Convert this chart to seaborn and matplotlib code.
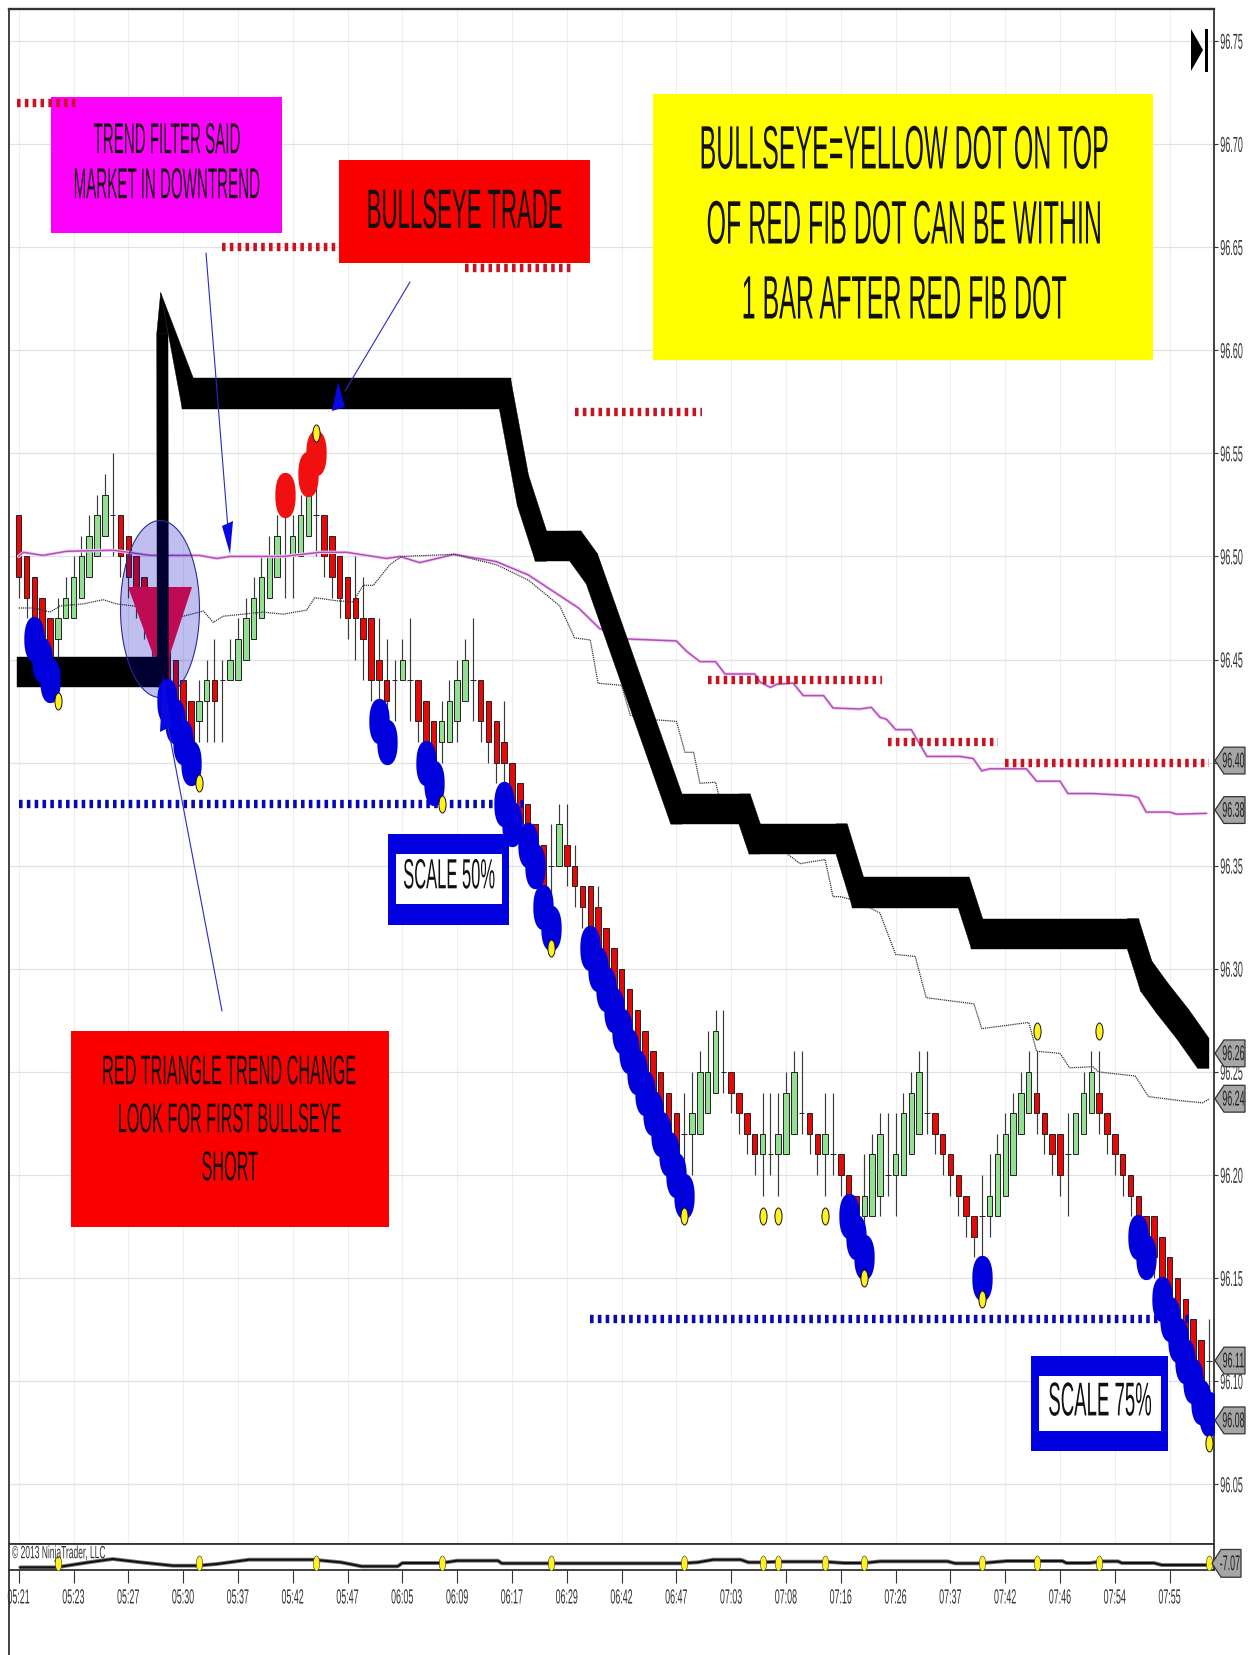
import numpy as np
import matplotlib
matplotlib.use("Agg")
import matplotlib.pyplot as plt
import seaborn as sns
from matplotlib.lines import Line2D
from matplotlib.patches import Ellipse, Polygon, Rectangle
from matplotlib.path import Path
from matplotlib.patheffects import AbstractPathEffect
from matplotlib.transforms import Affine2D, blended_transform_factory

W, H = 1252, 1656

# all prices are in cents above 96.00
opens = [52,50,49,48,47,46,47,47,48,49,50,51,52,52,51,50,49,48,47,46,45,44,43,42,43,44,44,44,44,45,46,47,48,49,50,50,50,51,52,52,51,50,49,48,47,47,45,44,44,44,44,44,43,42,41,41,42,43,44,44,43,42,41,40,39,38,37,36,35,35,36,35,34,34,33,32,31,30,29,28,27,26,25,24,23,22,22,22,23,24,25,25,24,23,22,21,21,21,21,22,23,23,22,21,21,21,20,19,18,18,19,20,20,20,21,22,23,23,22,21,20,19,18,18,18,18,19,20,22,23,24,23,22,22,21,21,22,23,24,23,22,21,20,19,18,18,17,16,15,14,13,12,11]
closes = [49,48,47,46,45,47,48,49,50,51,52,53,52,50,49,48,48,46,45,44,43,42,41,43,44,43,44,45,46,47,48,49,50,51,50,51,52,53,52,50,49,48,47,47,46,44,44,43,44,45,44,42,41,40,42,43,44,45,44,42,41,40,40,38,37,36,35,34,35,37,35,34,33,32,31,30,29,28,27,26,25,24,23,22,21,22,23,25,25,27,25,24,23,22,21,22,21,22,24,25,23,22,21,22,21,20,19,18,19,21,22,20,21,23,24,25,23,22,21,20,19,18,17,18,19,21,22,23,24,25,23,22,21,20,21,23,24,25,23,22,21,20,19,18,17,16,15,14,13,12,11,10,11]
highs = [52,50,49,48,47,48,49,50,51,52,53,54,55,52,51,50,49,48,47,46,45,44,43,44,45,46,45,46,47,48,49,50,51,52,52,52,53,54,56,52,51,50,49,50,49,47,47,46,45,46,47,44,43,42,43,44,45,46,47,44,43,42,43,40,39,38,37,36,37,38,38,36,34,34,34,32,31,30,29,28,27,26,25,24,23,24,25,26,27,28,28,25,24,23,22,24,24,24,25,26,26,23,22,24,24,21,20,19,21,22,23,23,23,24,25,26,26,23,22,21,20,19,18,20,21,22,23,24,25,26,26,23,22,22,23,23,25,26,26,23,22,21,20,19,18,18,17,16,15,14,13,12,13]
lows = [48,47,46,45,44,45,47,47,48,49,50,51,50,49,48,47,46,45,44,43,42,41,41,41,41,41,41,44,44,45,46,47,48,49,48,48,50,51,50,49,48,47,46,45,44,43,43,42,42,44,42,41,41,39,40,41,41,43,42,41,40,39,38,37,36,35,34,33,32,35,34,33,32,31,30,29,28,27,26,25,24,23,22,21,20,19,20,22,23,24,24,23,22,21,20,19,20,19,21,22,22,21,20,19,20,19,18,17,16,18,18,19,18,20,21,22,22,21,20,19,18,17,16,15,17,18,19,20,22,23,22,21,20,19,18,21,22,23,22,21,20,19,18,17,16,15,14,13,12,11,10,9,8]

pink_x = [0,0.6,3.1,6.1,12.1,16.8,23.1,25.3,27,33.8,38.5,41.9,47,48.7,51.2,55.6,61,65.1,69.1,71.5,74.2,77.6,84,85.3,87,89,90.2,94,94.7,96,96.8,98.9,100.2,102.8,104,107.4,108.9,110,110.85,112,114,116,120.2,121.9,123,124,128.7,130,133,134,137.2,142.1,143,144,147,147.9,151.7]
pink_y = [50,50.2,50.05,50.25,50.3,50.05,50.05,49.9,50,50,50.2,50.2,49.9,50,49.7,50.1,49.75,49.1,48.1,47.5,46.5,46,45.9,45.4,44.9,44.9,44.3,44.3,43.9,43.65,43.8,43.86,43.25,43.25,42.65,42.6,42.68,42.2,42.1,41.6,41.6,40.3,40.3,40.2,39.6,39.7,39.7,39.1,39.1,38.5,38.5,38.4,38.3,37.6,37.6,37.5,37.54]

gray_x = [0,1.9,4,5.3,8.25,10.8,12.5,14.6,21,23.6,24.85,26.1,31.2,33.8,36.8,37.8,40.6,42.7,44,45.3,47.4,48.9,55.6,61,65.1,69.1,71,73,74,77,78.1,80.6,84,85.1,86.2,87,89,89.35,95,99.8,103,104,104.9,107,110,112,114.5,115.9,122,123,129,130,133,134.2,137.2,137.9,142.6,144.3,148.5,151.2,152.1]
gray_y = [47.5,47.5,47.3,47.6,47.7,47.9,47.7,47.6,47.1,47.35,46.8,47.1,47.3,47.2,47.4,48,47.85,47.8,48.6,48.6,49.6,50,50.1,49.6,48.85,47.6,46.05,45.95,43.85,43.75,42.3,42.1,42,40.5,40.5,39,39.05,38.5,36.5,35.1,35.3,33.5,33.5,33.3,32.7,30.7,30.6,28.6,28.3,27.1,27.4,26,25.9,25.2,25.25,25,24.8,23.8,23.6,23.5,23.7]

trend_x = [0.5,18.4,18.35,18.13,21.6,62.1,64.4,66.7,71.1,73.2,84,92.7,94,105.1,107.2,120.7,122.4,142.3,144,146,148.7,151.3]
trend_y = [44.4,44.4,60.8,62.8,57.9,57.9,53.2,50.5,50.5,49.4,37.75,37.75,36.3,36.3,33.7,33.7,31.7,31.7,29.65,28.6,27.3,25.9]

blue_x = [2,3,4,19,20,21,22,46,47,52,53,62,63,65,66,67,68,73,74,75,76,77,78,79,80,81,82,83,84,85,106,107,108,123,143,144,146,147,148,149,150,151,152]
blue_y = [46,45,44,43,42,41,40,42,41,40,39,38,37,36,35,33,32,31,30,29,28,27,26,25,24,23,22,21,20,19,18,17,16,15,17,16,14,13,12,11,10,9,8.4]
red_x = [34,37,38]
red_y = [53,54,55]
yellow_x = [5,23,38,54,68,85,95,97,103,108,123,130,138,152]
yellow_y = [43,39,56,38,31,18,18,18,18,15,14,27,27,7]

red_dash_lvl = [72,65,64,57,44,41,40]
red_dash_from = [-0.2,26,57,71,88,111,126]
red_dash_to = [7.3,40.8,70.5,87.3,110.3,125.1,152]
blue_dash_lvl = [38,13]
blue_dash_from = [0,73]
blue_dash_to = [65,150]

osc_x = [0.2,4.8,8.9,12,15.6,19.7,22.8,25.3,29.4,37.6,41.2,43.8,48.4,49,54,56,61.2,61.7,67.9,78,84.6,86.7,88.7,92.2,93.2,94.8,97,102.9,105.4,108,110,118.6,119.6,122.7,126.2,133.3,133.8,136.8,138.4,140.4,140.9,145,146,152]
osc_y = [-8.27,-8.27,-6.77,-5.77,-6.77,-7.77,-7.77,-7.27,-5.97,-5.97,-6.77,-7.97,-7.97,-6.97,-6.97,-6.27,-6.27,-7.07,-7.07,-7.07,-7.07,-6.77,-5.97,-5.97,-6.77,-6.77,-6.57,-6.57,-6.97,-6.97,-6.47,-6.47,-7.07,-7.07,-6.37,-6.37,-6.97,-6.97,-6.47,-6.47,-6.97,-6.97,-7.57,-7.57]

time_labels = ["05:21","05:23","05:27","05:30","05:37","05:42","05:47","06:05","06:09","06:17","06:29","06:42","06:47","07:03","07:08","07:16","07:26","07:37","07:42","07:46","07:54","07:55"]
price_ticks = [96.05,96.10,96.15,96.20,96.25,96.30,96.35,96.40,96.45,96.50,96.55,96.60,96.65,96.70,96.75]
tag_prices = [96.401,96.377,96.259,96.237,96.110,96.081]
tag_labels = ["96.40","96.38","96.26","96.24","96.11","96.08"]


class StretchY(AbstractPathEffect):
    # the screenshot is squashed sideways, so text gets taller around its middle
    def __init__(self, sy):
        super().__init__()
        self.sy = sy

    def draw_path(self, renderer, gc, tpath, affine, rgbFace=None):
        mid = tpath.get_extents().intervaly.mean() if len(tpath.vertices) else 0
        stretch = Affine2D().translate(0, -mid).scale(1, self.sy).translate(0, mid)
        renderer.draw_path(gc, tpath, stretch + affine, rgbFace)


def price(cents):
    return 96 + np.asarray(cents, dtype=float) / 100


def fx(px):
    return px / W


def fy(py):
    return 1 - py / H


def fig_pts(pts):
    return [(fx(x), fy(y)) for x, y in pts]


def box(ax, x0, y0, x1, y1, color, z=5):
    ax.add_patch(Rectangle((fx(x0), fy(y1)), fx(x1 - x0), (y1 - y0) / H, facecolor=color,
                           edgecolor="none", transform=ax.figure.transFigure, zorder=z))


def label(ax, lines, cx, cy, step, size, sy, z=5.5):
    first = cy - step * (len(lines) - 1) / 2
    for n, line in enumerate(lines):
        ax.text(fx(cx), fy(first + n * step), line, transform=ax.figure.transFigure, ha="center",
                va="center", fontsize=size, color="#111111", zorder=z,
                path_effects=[StretchY(sy)])


def arrow(ax, tail, neck, head):
    # thin shaft plus the squashed arrow head
    trans = ax.figure.transFigure
    (x0, y0), (x1, y1) = fig_pts([tail, neck])
    ax.plot([x0, x1], [y0, y1], color="#2a2ac4", lw=0.8, transform=trans, zorder=7, scalex=False, scaley=False)
    ax.add_patch(Polygon(fig_pts(head), closed=True, facecolor="#0808e0", edgecolor="none", transform=trans, zorder=7))


def thick_line(ax, xs, ys, hx, hy):
    # the stretched pen: sweep a rectangle along each segment, hx/hy per vertex
    for i in range(len(xs) - 1):
        x0, y0, x1, y1 = xs[i], ys[i], xs[i + 1], ys[i + 1]
        ax0, ay0, ax1, ay1 = hx[i], hy[i], hx[i + 1], hy[i + 1]
        if y1 >= y0:
            pts = [(x0-ax0, y0+ay0), (x1-ax1, y1+ay1), (x1+ax1, y1+ay1), (x1+ax1, y1-ay1), (x0+ax0, y0-ay0), (x0-ax0, y0-ay0)]
        else:
            pts = [(x0-ax0, y0+ay0), (x0+ax0, y0+ay0), (x1+ax1, y1+ay1), (x1+ax1, y1-ay1), (x1-ax1, y1-ay1), (x0-ax0, y0-ay0)]
        ax.add_patch(Polygon(pts, closed=True, facecolor="black", edgecolor="black", lw=0.3, zorder=3))


def price_tag(ax, y, text, half, x0=1218, x1=1245):
    trans = blended_transform_factory(ax.figure.transFigure, ax.transData)
    tip, body = fx(x0 - 3), fx(x0 + 6)
    right = fx(x1)
    pts = [(tip, y), (body, y + half), (right, y + half), (right, y - half), (body, y - half)]
    ax.add_patch(Polygon(pts, closed=True, facecolor="#a6a6a6", edgecolor="#333333", lw=0.9,
                         transform=trans, clip_on=False, zorder=8))
    ax.text((fx(x0 + 4) + right) / 2, y, text, transform=trans, ha="center", va="center", fontsize=6.4,
            color="#222222", zorder=9, clip_on=False, path_effects=[StretchY(2.4)])


def squashed_dot(aspect):
    # NinjaTrader dots come out a little boxier than a true ellipse once squashed
    t = np.linspace(0, 2 * np.pi, 60)
    c, s = np.cos(t), np.sin(t)
    verts = np.column_stack([aspect * np.sign(c) * np.abs(c) ** 0.88, np.sign(s) * np.abs(s) ** 0.88])
    return Path(verts, closed=True)


sns.set_theme(style="white")
plt.rcParams["font.family"] = ["Liberation Sans", "DejaVu Sans"]

fig = plt.figure(figsize=(W / 100, H / 100), dpi=100, facecolor="white")
ax = fig.add_axes([fx(9.3), fy(1545.3), fx(1214 - 9.3), (1545.3 - 10) / H])
sub = fig.add_axes([fx(9.3), fy(1570.7), fx(1214 - 9.3), (1570.7 - 1545.3) / H], sharex=ax)
ax.set_facecolor("white")
ax.set_xlim(-1.2, 152.66)
ax.set_ylim(96.0209, 96.7655)
sub.set_ylim(-8.97, -1.37)

tick_pos = np.arange(len(time_labels)) * 7
ax.set_xticks(tick_pos)
ax.set_yticks(price_ticks)
ax.set_yticklabels([f"{p:.2f}" for p in price_ticks])
ax.grid(True, axis="x", color="#efefef", lw=0.8)
ax.grid(True, axis="y", color="#e2e2e2", lw=0.9)
ax.set_axisbelow(True)
ax.yaxis.tick_right()
ax.tick_params(axis="y", right=True, length=3, width=0.8, color="#333333", pad=1.5, labelsize=6.5,
               labelcolor="#333333")
ax.tick_params(axis="x", bottom=False, labelbottom=False)
for t in ax.get_yticklabels():
    t.set_path_effects([StretchY(2.4)])
for name, spine in ax.spines.items():
    spine.set_color("#333333")
    spine.set_linewidth(1.3)
ax.spines["top"].set_linewidth(1.7)

# candles
op, cl, hi, lo = map(price, (opens, closes, highs, lows))
xs = np.arange(len(op))
body_cols = ["#e80808" if c < o else "#93e093" for o, c in zip(op, cl)]
ax.vlines(xs, lo, hi, color="#3a3a3a", lw=0.85, zorder=2)
ax.bar(xs, cl - op, bottom=op, width=0.7, color=body_cols, edgecolor="#222222", linewidth=0.7, zorder=2.2)

# moving averages
sns.lineplot(x=pink_x, y=price(pink_y), ax=ax, sort=False, errorbar=None, color="#f4d0f4", lw=2.4, zorder=2.4)
sns.lineplot(x=pink_x, y=price(pink_y), ax=ax, sort=False, errorbar=None, color="#b050b8", lw=1.1, zorder=2.5)
sns.lineplot(x=gray_x, y=price(gray_y), ax=ax, sort=False, errorbar=None, color="#333333", lw=0.9, ls=(0, (1, 0.7)), zorder=2.5)

# trend filter line and the trend-change marker
ax.add_patch(Polygon(fig_pts([(128, 588), (192, 588), (162, 680)]), closed=True, facecolor="#ff1030",
                     edgecolor="none", transform=fig.transFigure, zorder=2.8))
pen_x = np.full(len(trend_x), 0.72)
pen_y = np.full(len(trend_x), 0.0073)
pen_y[2] = 0
pen_x[3] = pen_y[3] = 0  # the spike comes to a point
thick_line(ax, trend_x, price(trend_y), pen_x, pen_y)
ax.add_patch(Ellipse((fx(160), fy(610)), fx(79), 177 / H, facecolor="#0000c0", alpha=0.25, edgecolor="none",
                     transform=fig.transFigure, zorder=3.5))
ax.add_patch(Ellipse((fx(160), fy(610)), fx(79), 177 / H, facecolor="none", edgecolor="#2a2a9a", lw=0.8,
                     transform=fig.transFigure, zorder=3.6))

# text boxes
box(ax, 51, 98, 282, 234, "#ff00ff")
label(ax, ["TREND FILTER SAID", "MARKET IN DOWNTREND"], 167, 163, 45, 10.9, 2.85)
box(ax, 339, 161, 590, 264, "#fb0000")
label(ax, ["BULLSEYE TRADE"], 465, 212, 0, 16, 2.5)
box(ax, 653, 95, 1153, 361, "#ffff00")
label(ax, ["BULLSEYE=YELLOW DOT ON TOP", "OF RED FIB DOT CAN BE WITHIN", "1 BAR AFTER RED FIB DOT"], 904, 225, 75, 18, 2.45)
box(ax, 71, 1032, 389, 1228, "#fb0000")
label(ax, ["RED TRIANGLE TREND CHANGE", "LOOK FOR FIRST BULLSEYE", "SHORT"], 230, 1120, 48, 11.7, 2.55)
box(ax, 388, 835, 509, 926, "#0000e0")
box(ax, 396, 855, 502, 905, "white", z=5.1)
label(ax, ["SCALE 50%"], 449, 876, 0, 11.9, 2.55)
box(ax, 1031, 1357, 1168, 1452, "#0000e0")
box(ax, 1039, 1377, 1161, 1432, "white", z=5.1)
label(ax, ["SCALE 75%"], 1100, 1402, 0, 13.4, 2.55)

# fib levels
for lvl, a, b in zip(red_dash_lvl, red_dash_from, red_dash_to):
    ax.hlines(price(lvl), a, b, color="#c81420", lw=6, ls=(0, (0.43, 0.51)), zorder=5.2)
for lvl, a, b in zip(blue_dash_lvl, blue_dash_from, blue_dash_to):
    ax.hlines(price(lvl), a, b, color="#0808b8", lw=6, ls=(0, (0.43, 0.51)), zorder=2.6)

# signal dots
dot = squashed_dot(0.45)
yellow = Path.unit_circle().transformed(Affine2D().scale(0.42, 1))
sns.scatterplot(x=blue_x, y=price(blue_y), ax=ax, marker=dot, s=1060, color="#0000dc", linewidth=0, zorder=6)
sns.scatterplot(x=red_x, y=price(red_y), ax=ax, marker=dot, s=1060, color="#f01010", linewidth=0, zorder=6)
sns.scatterplot(x=yellow_x, y=price(yellow_y), ax=ax, marker=yellow, s=150, color="#fff020", edgecolor="#111111",
                linewidth=0.7, zorder=6.5)

# hand-drawn arrows
arrow(ax, (206, 254), (228, 530), [(222, 527), (233, 522), (230, 555)])
arrow(ax, (410, 283), (345, 392), [(338, 383), (345, 408), (332, 412)])
arrow(ax, (222, 1012), (168, 728), [(160, 733), (172, 727), (163, 675)])

for level, text in zip(tag_prices, tag_labels):
    price_tag(ax, level, text, 0.0065)

# skip-to-end glyph, top right
ax.add_patch(Polygon(fig_pts([(1191, 30), (1203, 51), (1191, 72)]), closed=True, facecolor="black",
                     edgecolor="none", transform=fig.transFigure, zorder=8))
box(ax, 1204.5, 30, 1207.5, 73, "black", z=8)

# oscillator panel
sub.set_facecolor("white")
sns.lineplot(x=osc_x, y=osc_y, ax=sub, sort=False, errorbar=None, color="#7a7a7a", lw=2.8, zorder=2)
sns.lineplot(x=osc_x, y=osc_y, ax=sub, sort=False, errorbar=None, color="#111111", lw=1.5, zorder=2.2)
sns.scatterplot(x=yellow_x, y=[-7.07] * len(yellow_x), ax=sub, marker=yellow, s=117, color="#fff020",
                edgecolor="#333333", linewidth=0.4, zorder=3)
sub.set_yticks([])
sub.set_xticks(tick_pos)
sub.set_xticklabels(time_labels)
sub.tick_params(axis="x", bottom=True, length=9.1, width=0.8, color="#333333", pad=7.3, labelsize=6.4,
                labelcolor="#333333")
for t in sub.get_xticklabels():
    t.set_path_effects([StretchY(2.3)])
for name, spine in sub.spines.items():
    spine.set_color("#333333")
    spine.set_linewidth(1.3)
price_tag(sub, -7.07, "-7.07", 4.15, 1215, 1241)
sub.text(fx(12), 0.62, "© 2013 NinjaTrader, LLC", transform=blended_transform_factory(fig.transFigure, sub.transAxes),
         ha="left", va="center", fontsize=6.1, color="#333333", zorder=4, path_effects=[StretchY(2.1)])

fig.add_artist(Line2D([fx(9.3), fx(9.3)], [0, fy(1570.7)], color="#333333", lw=1.3))

fig.savefig("out.png", dpi=100)
